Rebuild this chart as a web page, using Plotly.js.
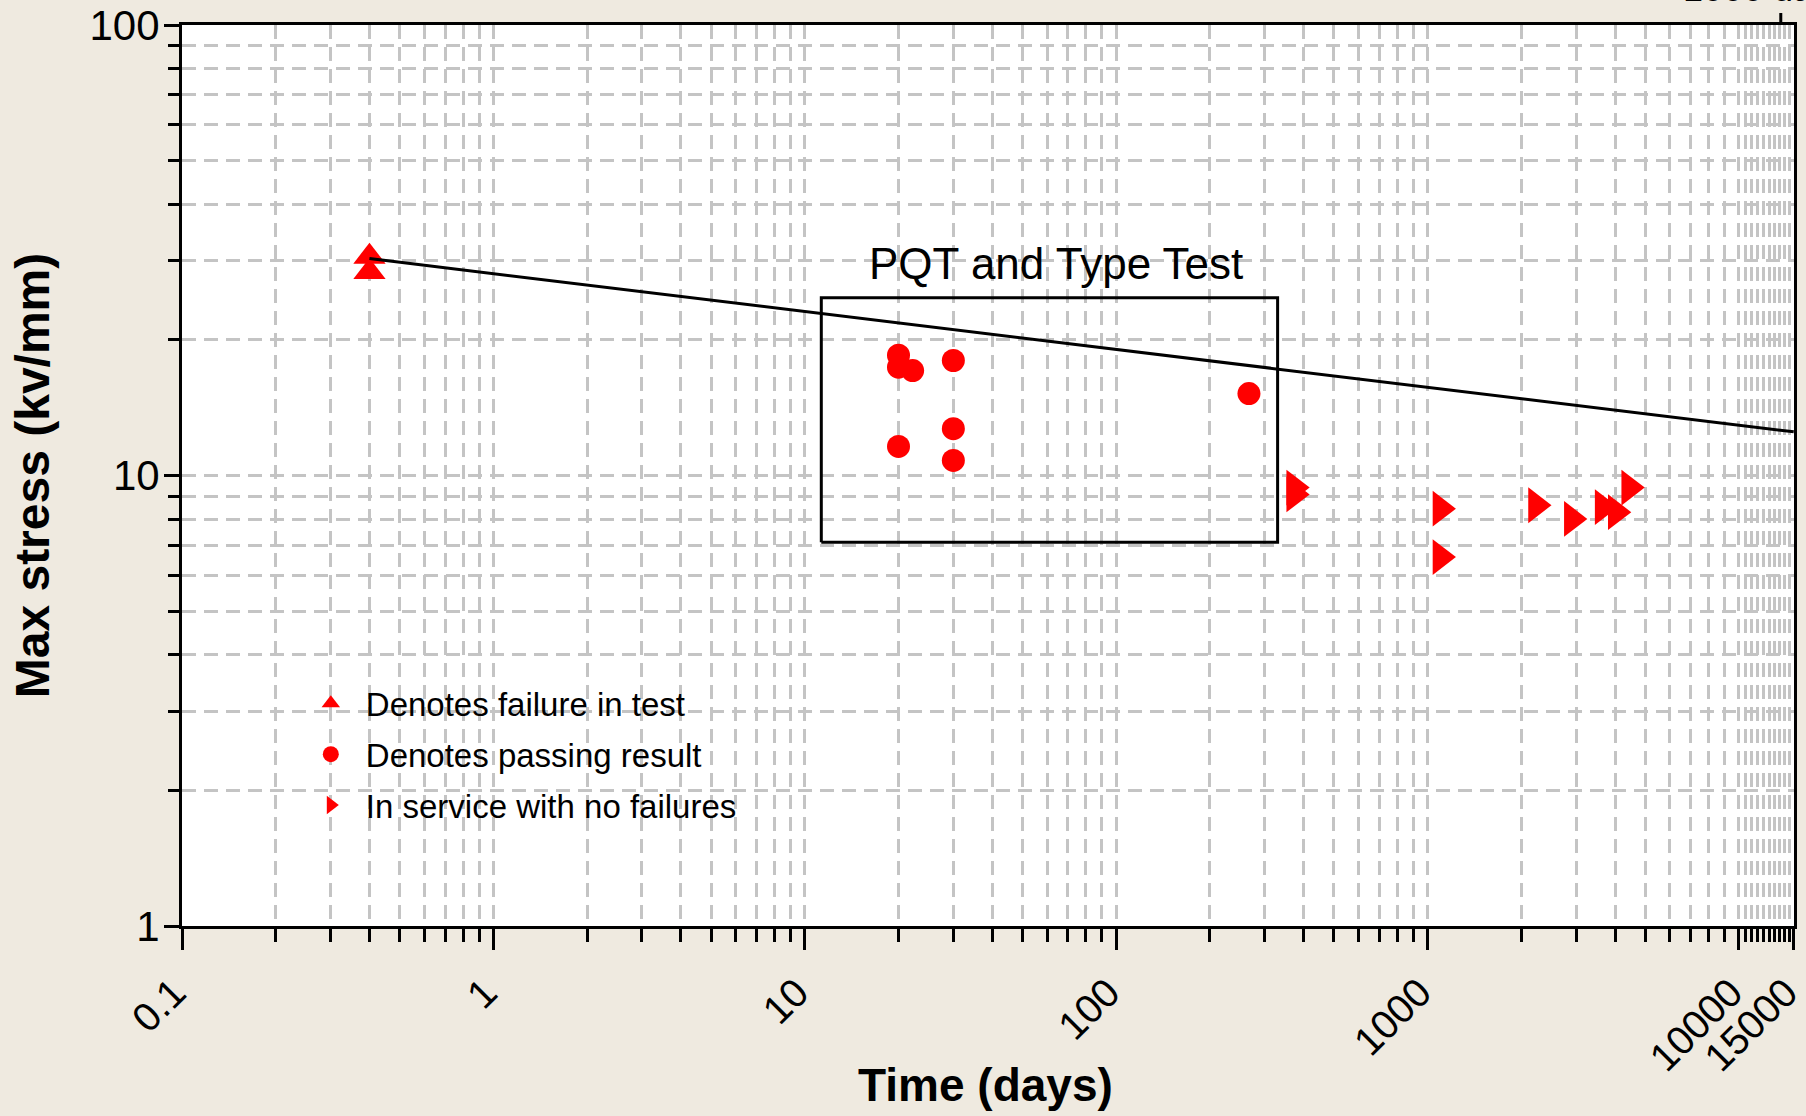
<!DOCTYPE html>
<html>
<head>
<meta charset="utf-8">
<script src="https://cdn.plot.ly/plotly-3.0.1.min.js"></script>
<style>
  html, body { margin: 0; padding: 0; background: #efeae0; }
  #chart { width: 1806px; height: 1116px; }
</style>
</head>
<body>
<div id="chart"></div>
<script>
// ---- data ----
const failX = [0.40, 0.40];
const failY = [30.6, 28.3];

const passX = [20, 20, 22.2, 30, 267, 30, 20, 30];
const passY = [18.5, 17.4, 17.1, 18.0, 15.2, 12.7, 11.6, 10.8];

const serviceX = [373, 373, 1100, 1100, 2230, 2907, 3650, 4023, 4443];
const serviceY = [9.40, 9.08, 8.44, 6.59, 8.59, 8.01, 8.51, 8.29, 9.40];

const fitX = [0.40, 15000];
const fitY = [30.3, 12.5];

const boxX = [11.3, 330, 330, 11.3, 11.3];
const boxY = [7.11, 7.11, 24.8, 24.8, 7.11];
const boxLabel = "PQT and Type Test";

const legendNames = ["Denotes failure in test", "Denotes passing result", "In service with no failures"];
const xTitle = "Time (days)";
const yTitle = "Max stress (kv/mm)";

const xTickVals = [0.1, 1, 10, 100, 1000, 10000, 15000];
const xTickText = ["0.1", "1", "10", "100", "1000", "10000", "15000"];
const xMinorVals = [0.2,0.3,0.4,0.5,0.6,0.7,0.8,0.9,
                    2,3,4,5,6,7,8,9,
                    20,30,40,50,60,70,80,90,
                    200,300,400,500,600,700,800,900,
                    2000,3000,4000,5000,6000,7000,8000,9000,
                    10500,11000,11500,12000,12500,13000,13500,14000,14500];
const yTickVals = [1, 10, 100];
const yTickText = ["1", "10", "100"];
const yMinorVals = [2,3,4,5,6,7,8,9,20,30,40,50,60,70,80,90];

// ---- styling ----
const FONT = "Liberation Sans, Arial, sans-serif";
const RED = "#ff0000";
const GRID = "#c4c4c4";

const traces = [
  {
    x: failX, y: failY, type: "scatter", mode: "markers",
    name: legendNames[0], legendgroup: "a",
    marker: { symbol: "triangle-up", size: 28, color: RED }
  },
  {
    x: passX, y: passY, type: "scatter", mode: "markers",
    name: legendNames[1], legendgroup: "b",
    marker: { symbol: "circle", size: 23, color: RED }
  },
  {
    x: serviceX, y: serviceY, type: "scatter", mode: "markers",
    name: legendNames[2], legendgroup: "c",
    marker: { symbol: "triangle-right", size: 31, color: RED }
  },
  {
    x: fitX, y: fitY, type: "scatter", mode: "lines",
    line: { color: "#000", width: 3 }, showlegend: false, hoverinfo: "skip"
  },
  {
    x: boxX, y: boxY, type: "scatter", mode: "lines",
    line: { color: "#000", width: 3 }, showlegend: false, hoverinfo: "skip"
  }
];

const layout = {
  width: 1806, height: 1116,
  paper_bgcolor: "#efeae0",
  plot_bgcolor: "#ffffff",
  margin: { l: 182, r: 12, t: 25, b: 190 },
  font: { family: FONT, color: "#000" },
  showlegend: true,
  legend: {
    x: 0.0706, y: 0.2782, xanchor: "left", yanchor: "top",
    bgcolor: "rgba(0,0,0,0)", borderwidth: 0,
    font: { size: 33, family: FONT, color: "#000" },
    tracegroupgap: 5, itemsizing: "trace", itemwidth: 60
  },
  xaxis: {
    type: "log", range: [-1, Math.log10(15000) + 0.0008],
    tickmode: "array", tickvals: xTickVals, ticktext: xTickText,
    tickangle: -45, tickfont: { size: 40, family: FONT },
    ticklabeloverflow: "allow", ticklabelstandoff: 3, ticklabelshift: -8,
    ticks: "outside", ticklen: 21, tickwidth: 3, tickcolor: "#000",
    showline: true, linecolor: "#000", linewidth: 3, mirror: true,
    showgrid: true, gridcolor: GRID, gridwidth: 3, griddash: "14px,8px",
    zeroline: false,
    minor: {
      tickmode: "array", tickvals: xMinorVals,
      ticks: "outside", ticklen: 13, tickwidth: 3, tickcolor: "#000",
      showgrid: true, gridcolor: GRID, gridwidth: 3, griddash: "14px,8px"
    }
  },
  yaxis: {
    type: "log", range: [0, 2],
    tickmode: "array", tickvals: yTickVals, ticktext: yTickText,
    tickfont: { size: 42, family: FONT },
    ticklabelstandoff: -4,
    ticks: "outside", ticklen: 15, tickwidth: 3, tickcolor: "#000",
    showline: true, linecolor: "#000", linewidth: 3, mirror: true,
    showgrid: true, gridcolor: GRID, gridwidth: 3, griddash: "14px,8px",
    zeroline: false,
    minor: {
      tickmode: "array", tickvals: yMinorVals,
      ticks: "outside", ticklen: 11, tickwidth: 3, tickcolor: "#000",
      showgrid: true, gridcolor: GRID, gridwidth: 3, griddash: "14px,8px"
    },
    title: { text: yTitle, font: { size: 48, family: FONT, weight: "bold" }, standoff: 25 }
  },
  annotations: [
    {
      text: "<b>" + xTitle + "</b>", xref: "paper", yref: "paper",
      x: 0.4985, y: -0.1767, xanchor: "center", yanchor: "middle", showarrow: false,
      font: { size: 46, family: FONT, color: "#000" }
    },
    {
      text: boxLabel, xref: "x", yref: "y",
      x: 1.808, y: 1.47,
      xanchor: "center", yanchor: "middle", showarrow: false,
      font: { size: 44, family: FONT, color: "#000" }
    },
    {
      text: "1000 days", xref: "paper", yref: "paper",
      x: 0.93, y: 1, xanchor: "left", yanchor: "bottom", yshift: 14,
      showarrow: false, font: { size: 36, family: FONT, color: "#000" }
    }
  ],
  shapes: [
    {
      type: "line", xref: "paper", yref: "paper",
      x0: 0.9918, x1: 0.9918, y0: 1, y1: 1.0133,
      line: { color: "#000", width: 3 }
    }
  ]
};

Plotly.newPlot("chart", traces, layout, { staticPlot: true, displayModeBar: false });
</script>
</body>
</html>
